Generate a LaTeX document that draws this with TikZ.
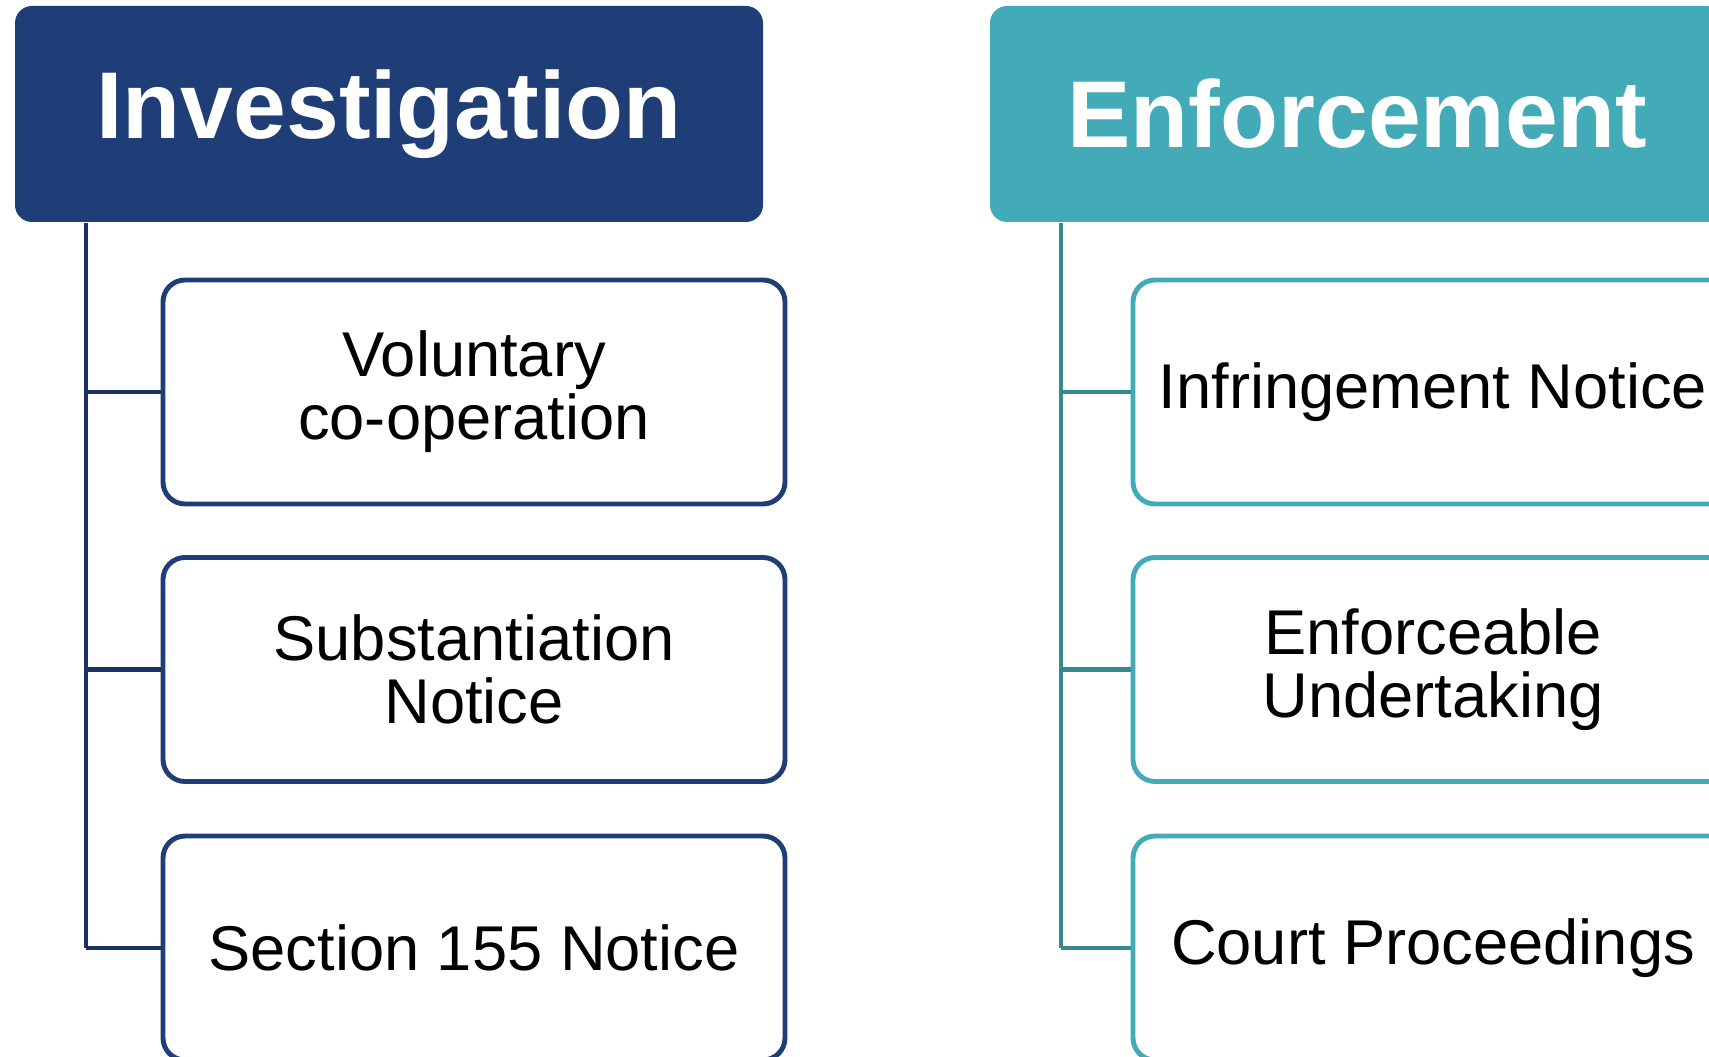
\documentclass[tikz,border=0pt]{standalone}
\usepackage{fontspec}
\setmainfont{Liberation Sans}
\usepackage{tikz}
\usetikzlibrary{positioning,calc}

\definecolor{invblue}{RGB}{31,62,120}
\definecolor{invline}{RGB}{26,50,99}
\definecolor{enfteal}{RGB}{67,170,184}
\definecolor{enfline}{RGB}{53,138,146}

\tikzset{
  headbox/.style={rounded corners=0.17cm,minimum height=2.16cm,text=white,
    font=\fontsize{27}{32}\selectfont\bfseries},
  itembox/.style={draw,line width=1.4pt,fill=white,rounded corners=0.22cm,
    minimum height=2.24cm,align=center,font=\fontsize{18}{18}\selectfont},
  trunk/.style={line width=1.35pt}
}

\begin{document}
\begin{tikzpicture}
  \useasboundingbox (0,0) rectangle (17.09,10.56);
  \fill[white] (0,0) rectangle (17.09,10.56);
  % column headers
  \node[headbox,fill=invblue,minimum width=7.48cm] (inv) at (3.89,9.42) {Investigation};
  \node[headbox,fill=enfteal,minimum width=7.35cm] (enf) at (13.575,9.42) {Enforcement};
  \coordinate (invtop) at (0.86,8.33);
  \coordinate (enftop) at (10.61,8.33);
  % left column
  \foreach \n/\yy/\lab in {1/6.64/{Voluntary\\co-operation},2/3.865/{Substantiation\\Notice},3/1.08/{Section 155 Notice}}{
    \node[itembox,draw=invblue,minimum width=6.22cm] (inv\n) at (4.74,\yy) {\lab};
    \draw[trunk,invline] (invtop |- inv\n.west) -- (inv\n.west);
  }
  \draw[trunk,invline] (invtop) -- (invtop |- inv3.west);
  % right column
  \foreach \n/\yy/\lab in {1/6.64/{Infringement Notice},2/3.865/{Enforceable\\Undertaking},3/1.08/{Court Proceedings}}{
    \node[itembox,draw=enfteal,minimum width=6.0cm] (enf\n) at (14.33,\yy) {\lab};
    \draw[trunk,enfline] (enftop |- enf\n.west) -- (enf\n.west);
  }
  \draw[trunk,enfline] (enftop) -- (enftop |- enf3.west);
\end{tikzpicture}
\end{document}
